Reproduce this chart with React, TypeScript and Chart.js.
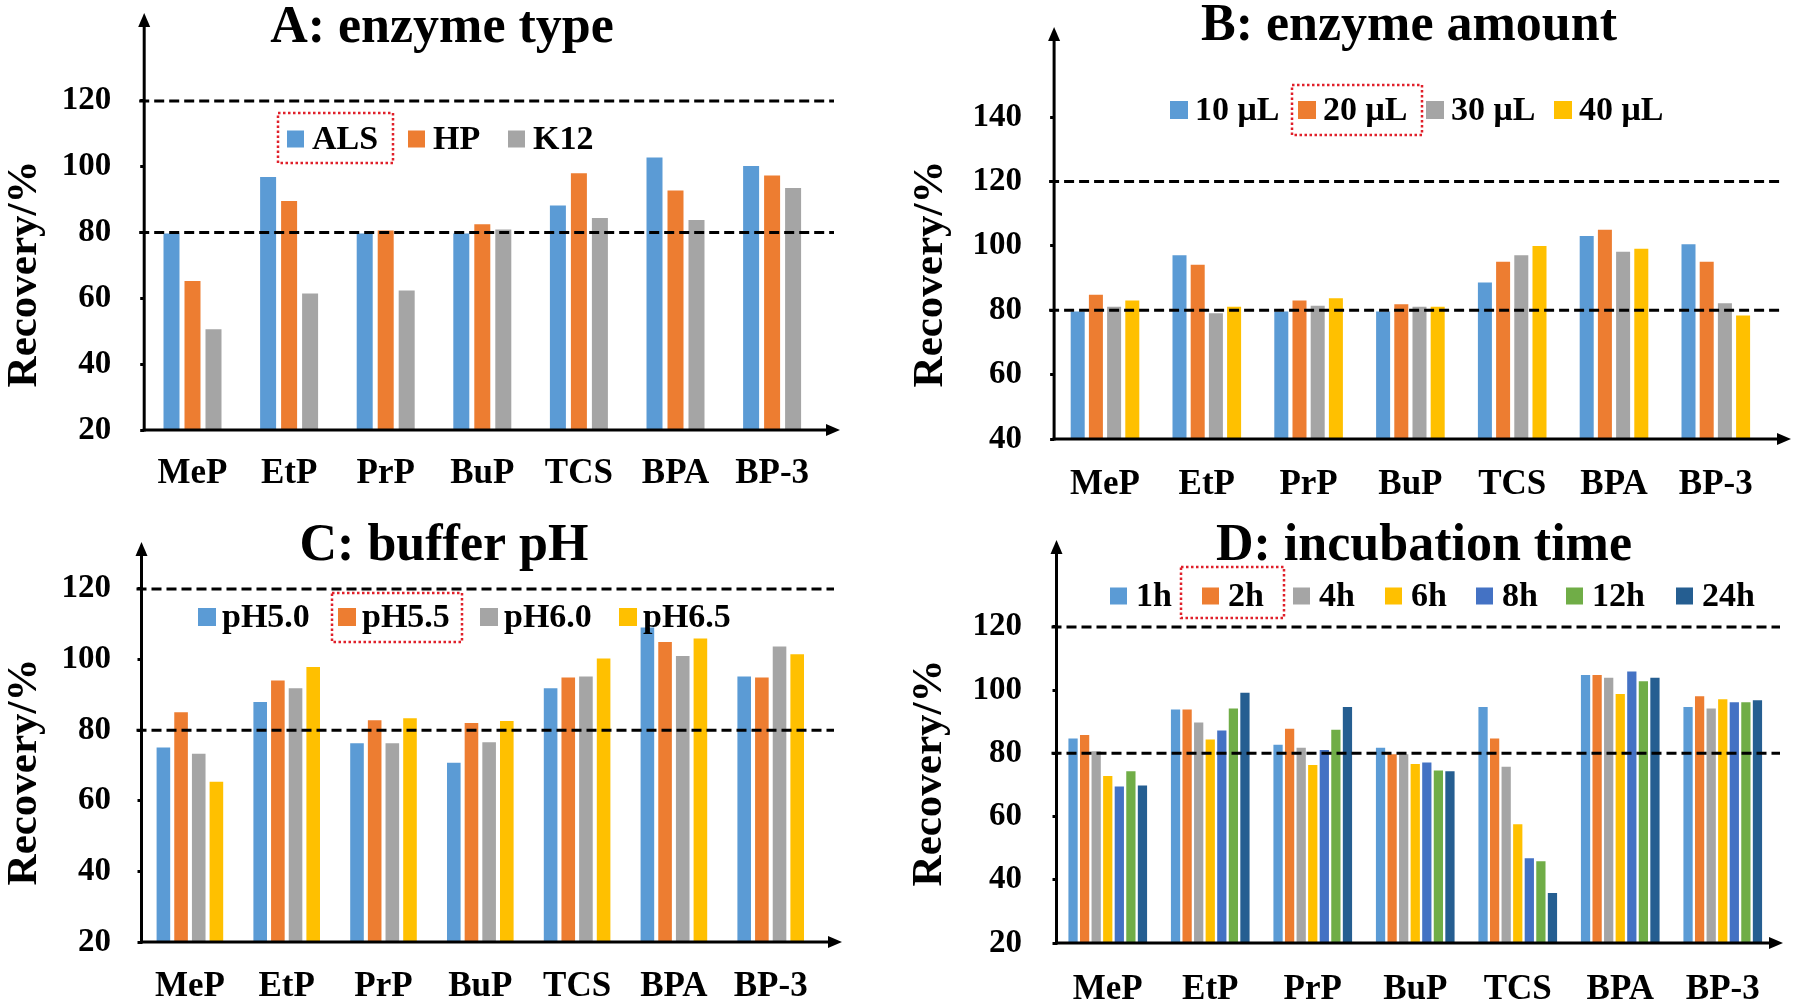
import React, { useEffect, useRef } from 'react';
import { Chart, registerables } from 'chart.js';

Chart.register(...registerables);

const FONT = '"Liberation Serif", "Times New Roman", serif';

// ---------- data ----------
const categories = ['MeP', 'EtP', 'PrP', 'BuP', 'TCS', 'BPA', 'BP-3'];

const ticksA = [20, 40, 60, 80, 100, 120];
const ticksB = [40, 60, 80, 100, 120, 140];
const ticksC = [20, 40, 60, 80, 100, 120];
const ticksD = [20, 40, 60, 80, 100, 120];
const refLines = [80, 120];

const labelsA = ['ALS', 'HP', 'K12'];
const alsA = [79.7, 96.9, 79.7, 79.7, 88.2, 102.8, 100.2];
const hpA = [65.3, 89.6, 80.6, 82.5, 98.0, 92.8, 97.3];
const k12A = [50.6, 61.5, 62.4, 80.9, 84.4, 83.8, 93.5];

const labelsB = ['10 μL', '20 μL', '30 μL', '40 μL'];
const ul10 = [79.6, 97.1, 79.6, 79.6, 88.6, 103.1, 100.5];
const ul20 = [84.8, 94.1, 83.0, 81.9, 95.1, 105.0, 95.1];
const ul30 = [81.1, 79.1, 81.4, 81.1, 97.1, 98.2, 82.2];
const ul40 = [83.0, 81.1, 83.7, 81.1, 100.0, 99.1, 78.4];

const labelsC = ['pH5.0', 'pH5.5', 'pH6.0', 'pH6.5'];
const ph50 = [75.1, 88.0, 76.3, 70.8, 91.9, 109.1, 95.2];
const ph55 = [85.1, 94.1, 82.8, 82.0, 94.9, 105.0, 94.9];
const ph60 = [73.3, 91.9, 76.3, 76.6, 95.2, 101.0, 103.7];
const ph65 = [65.4, 97.9, 83.4, 82.6, 100.3, 106.0, 101.5];

const labelsD = ['1h', '2h', '4h', '6h', '8h', '12h', '24h'];
const h1 = [84.7, 93.9, 82.7, 81.8, 94.7, 104.8, 94.7];
const h2 = [85.8, 93.9, 87.8, 79.7, 84.7, 104.8, 98.1];
const h4 = [80.7, 89.8, 81.8, 79.7, 75.8, 103.9, 94.2];
const h6 = [72.8, 84.4, 76.3, 76.6, 57.6, 98.8, 97.1];
const h8 = [69.5, 87.2, 81.1, 77.1, 46.8, 105.9, 96.2];
const h12 = [74.3, 94.2, 87.5, 74.6, 45.9, 102.8, 96.2];
const h24 = [69.8, 99.2, 94.7, 74.3, 35.8, 103.9, 96.8];

const C_BLUE = '#5B9BD5';
const C_ORANGE = '#ED7D31';
const C_GRAY = '#A5A5A5';
const C_YELLOW = '#FFC000';
const C_BLUE2 = '#4472C4';
const C_GREEN = '#70AD47';
const C_DARK = '#255E91';

type Series = { label: string; data: number[]; color: string };
type Panel = {
  rect: [number, number, number, number];
  area: [number, number, number, number]; // L, T, R, B (page)
  yMin: number;
  yMax: number;
  yTicks: number[];
  series: Series[];
  catPct: number;
  barPct: number;
  title: string;
  titleX: number;
  titleY: number;
  yLabelX: number;
  yLabelY: number;
  xArrow: number;
  dashEnd: number;
  yTickPad: number;
  xTickPad: number;
  legendX: number[];
  legendY: number;
  legendBox: number;
  legendGap: number;
  redBox: [number, number, number, number];
};

const panels: Panel[] = [
  {
    rect: [0, 0, 900, 502],
    area: [144.2, 13, 820.4, 430],
    yMin: 20, yMax: 146.7, yTicks: ticksA,
    series: [
      { label: labelsA[0], data: alsA, color: C_BLUE },
      { label: labelsA[1], data: hpA, color: C_ORANGE },
      { label: labelsA[2], data: k12A, color: C_GRAY },
    ],
    catPct: 0.652, barPct: 0.762,
    title: 'A: enzyme type', titleX: 442, titleY: 42,
    yLabelX: 25, yLabelY: 274,
    xArrow: 840, dashEnd: 834,
    yTickPad: 29, xTickPad: 23,
    legendX: [287, 408, 508], legendY: 139, legendBox: 17, legendGap: 8,
    redBox: [278, 113, 393, 163],
  },
  {
    rect: [900, 0, 900, 502],
    area: [1054.1, 27, 1766.7, 439],
    yMin: 40, yMax: 168, yTicks: ticksB,
    series: [
      { label: labelsB[0], data: ul10, color: C_BLUE },
      { label: labelsB[1], data: ul20, color: C_ORANGE },
      { label: labelsB[2], data: ul30, color: C_GRAY },
      { label: labelsB[3], data: ul40, color: C_YELLOW },
    ],
    catPct: 0.715, barPct: 0.77,
    title: 'B: enzyme amount', titleX: 1409, titleY: 40,
    yLabelX: 931, yLabelY: 274,
    xArrow: 1791, dashEnd: 1780,
    yTickPad: 28, xTickPad: 25,
    legendX: [1170, 1298, 1426, 1554], legendY: 110, legendBox: 18, legendGap: 7,
    redBox: [1292, 85, 1422, 135],
  },
  {
    rect: [0, 502, 900, 502],
    area: [141.5, 542, 819.1, 942],
    yMin: 20, yMax: 133.3, yTicks: ticksC,
    series: [
      { label: labelsC[0], data: ph50, color: C_BLUE },
      { label: labelsC[1], data: ph55, color: C_ORANGE },
      { label: labelsC[2], data: ph60, color: C_GRAY },
      { label: labelsC[3], data: ph65, color: C_YELLOW },
    ],
    catPct: 0.73, barPct: 0.77,
    title: 'C: buffer pH', titleX: 444, titleY: 560,
    yLabelX: 25, yLabelY: 772,
    xArrow: 842, dashEnd: 834,
    yTickPad: 26.5, xTickPad: 24,
    legendX: [198, 338, 480, 619], legendY: 617, legendBox: 18, legendGap: 6,
    redBox: [332, 593, 462, 642],
  },
  {
    rect: [900, 502, 900, 502],
    area: [1056.5, 540, 1774, 943],
    yMin: 20, yMax: 147.5, yTicks: ticksD,
    series: [
      { label: labelsD[0], data: h1, color: C_BLUE },
      { label: labelsD[1], data: h2, color: C_ORANGE },
      { label: labelsD[2], data: h4, color: C_GRAY },
      { label: labelsD[3], data: h6, color: C_YELLOW },
      { label: labelsD[4], data: h8, color: C_BLUE2 },
      { label: labelsD[5], data: h12, color: C_GREEN },
      { label: labelsD[6], data: h24, color: C_DARK },
    ],
    catPct: 0.79, barPct: 0.8,
    title: 'D: incubation time', titleX: 1424, titleY: 560,
    yLabelX: 930, yLabelY: 773,
    xArrow: 1783, dashEnd: 1780,
    yTickPad: 30.5, xTickPad: 26,
    legendX: [1110, 1202, 1293, 1385, 1476, 1566, 1676], legendY: 596, legendBox: 17, legendGap: 9,
    redBox: [1181, 567, 1284, 618],
  },
];

function makeDecor(p: Panel) {
  return {
    id: 'panelDecor',
    afterDatasetsDraw(chart: any) {
      const ctx: CanvasRenderingContext2D = chart.ctx;
      const cx = p.rect[0];
      const cy = p.rect[1];
      const ys = chart.scales.y;
      const { left: L, top: T, bottom: B } = chart.chartArea;
      ctx.save();
      // reference dashed lines
      ctx.strokeStyle = '#000';
      ctx.lineWidth = 3;
      ctx.setLineDash([10, 5]);
      for (const v of refLines) {
        const y = ys.getPixelForValue(v);
        ctx.beginPath();
        ctx.moveTo(L - 5, y);
        ctx.lineTo(p.dashEnd - cx, y);
        ctx.stroke();
      }
      ctx.setLineDash([]);
      // axes
      const xTip = p.xArrow - cx;
      ctx.lineWidth = 3;
      ctx.beginPath();
      ctx.moveTo(L, B + 1.5);
      ctx.lineTo(L, T + 10);
      ctx.stroke();
      ctx.beginPath();
      ctx.moveTo(L - 1.5, B);
      ctx.lineTo(xTip - 10, B);
      ctx.stroke();
      ctx.fillStyle = '#000';
      ctx.beginPath();
      ctx.moveTo(L, T);
      ctx.lineTo(L - 6, T + 14);
      ctx.lineTo(L + 6, T + 14);
      ctx.closePath();
      ctx.fill();
      ctx.beginPath();
      ctx.moveTo(xTip, B);
      ctx.lineTo(xTip - 14, B - 6);
      ctx.lineTo(xTip - 14, B + 6);
      ctx.closePath();
      ctx.fill();
      // title
      ctx.font = `bold 52px ${FONT}`;
      ctx.textAlign = 'center';
      ctx.textBaseline = 'alphabetic';
      ctx.fillText(p.title, p.titleX - cx, p.titleY - cy);
      // y axis label
      ctx.save();
      ctx.translate(p.yLabelX - cx, p.yLabelY - cy);
      ctx.rotate(-Math.PI / 2);
      ctx.font = `bold 43px ${FONT}`;
      ctx.textAlign = 'center';
      ctx.textBaseline = 'middle';
      ctx.fillText('Recovery/%', 0, 0);
      ctx.restore();
      // legend
      ctx.font = `bold 34px ${FONT}`;
      ctx.textAlign = 'left';
      ctx.textBaseline = 'alphabetic';
      const bs = p.legendBox;
      chart.data.datasets.forEach((ds: any, i: number) => {
        const bx = p.legendX[i] - cx;
        const by = p.legendY - cy - bs / 2;
        ctx.fillStyle = ds.backgroundColor;
        ctx.fillRect(bx, by, bs, bs);
        ctx.fillStyle = '#000';
        ctx.fillText(ds.label, bx + bs + p.legendGap, by + bs + 1);
      });
      // red dotted highlight
      const [rx1, ry1, rx2, ry2] = p.redBox;
      ctx.strokeStyle = '#E0202A';
      ctx.lineWidth = 2.5;
      ctx.setLineDash([2.5, 2.5]);
      ctx.strokeRect(rx1 - cx, ry1 - cy, rx2 - rx1, ry2 - ry1);
      ctx.restore();
    },
  };
}

function PanelChart({ p }: { p: Panel }) {
  const ref = useRef<HTMLCanvasElement>(null);
  useEffect(() => {
    const [cx, cy, cw, ch] = p.rect;
    const [L, T, R, B] = p.area;
    const tickFont = { family: FONT, size: 33, weight: 'bold' as const };
    const chart = new Chart(ref.current as HTMLCanvasElement, {
      type: 'bar',
      data: {
        labels: categories,
        datasets: p.series.map((s) => ({
          label: s.label,
          data: s.data,
          backgroundColor: s.color,
          borderWidth: 0,
          barPercentage: p.barPct,
          categoryPercentage: p.catPct,
        })),
      },
      options: {
        animation: false,
        responsive: false,
        devicePixelRatio: 1,
        layout: { padding: { left: 0, top: T - cy, right: cx + cw - R, bottom: 0 } },
        plugins: { legend: { display: false }, tooltip: { enabled: false }, title: { display: false } },
        scales: {
          x: {
            border: { display: false },
            grid: { display: false, drawTicks: false },
            ticks: {
              font: { family: FONT, size: 35, weight: 'bold' },
              color: '#000',
              padding: p.xTickPad,
              maxRotation: 0,
              autoSkip: false,
            },
            afterFit: (s: any) => {
              s.height = cy + ch - B;
              s.paddingLeft = 0;
              s.paddingRight = 0;
            },
          },
          y: {
            min: p.yMin,
            max: p.yMax,
            border: { display: false },
            grid: {
              display: true,
              drawOnChartArea: false,
              drawTicks: true,
              tickLength: 4,
              tickWidth: 3,
              tickColor: '#000',
            },
            ticks: { font: tickFont, color: '#000', padding: p.yTickPad },
            afterBuildTicks: (s: any) => {
              s.ticks = p.yTicks.map((v) => ({ value: v }));
            },
            afterFit: (s: any) => {
              s.width = L - cx;
              s.paddingTop = 0;
              s.paddingBottom = 0;
            },
          },
        },
      },
      plugins: [makeDecor(p)],
    } as any);
    return () => chart.destroy();
  }, [p]);
  return (
    <canvas
      ref={ref}
      width={p.rect[2]}
      height={p.rect[3]}
      style={{ position: 'absolute', left: p.rect[0], top: p.rect[1], width: p.rect[2], height: p.rect[3] }}
    />
  );
}

export default function App() {
  return (
    <div style={{ position: 'absolute', left: 0, top: 0, width: 1800, height: 1004, background: '#fff', overflow: 'hidden' }}>
      {panels.map((p, i) => (
        <PanelChart key={i} p={p} />
      ))}
    </div>
  );
}
